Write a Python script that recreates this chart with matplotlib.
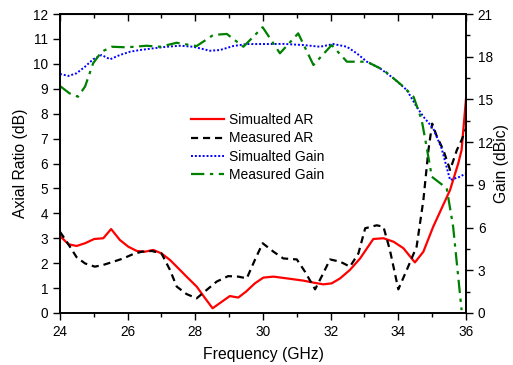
import matplotlib
matplotlib.use("Agg")
import matplotlib.pyplot as plt
from matplotlib.ticker import MultipleLocator

plt.rcParams['font.family'] = ['Liberation Sans', 'DejaVu Sans']

# Simulated AR (dB)
sim_ar_f = [24.0, 24.25, 24.49, 24.74, 25.01, 25.28, 25.51, 25.77, 26.02, 26.27, 26.51, 26.76,
            27.0, 27.25, 27.5, 27.74, 28.04, 28.29, 28.51, 28.78, 29.02, 29.27, 29.5, 29.76,
            30.01, 30.31, 30.7, 31.19, 31.49, 31.78, 32.03, 32.28, 32.57, 32.87, 33.26, 33.56,
            33.86, 34.15, 34.49, 34.74, 35.03, 35.28, 35.53, 35.77, 35.87, 36.0]
sim_ar = [3.09, 2.76, 2.69, 2.8, 2.97, 3.0, 3.37, 2.93, 2.66, 2.49, 2.46, 2.53,
          2.39, 2.13, 1.79, 1.46, 1.06, 0.59, 0.19, 0.45, 0.68, 0.62, 0.86, 1.19,
          1.42, 1.46, 1.39, 1.30, 1.22, 1.15, 1.19, 1.39, 1.73, 2.19, 2.97, 3.0,
          2.86, 2.6, 2.03, 2.46, 3.46, 4.2, 4.94, 6.0, 6.54, 8.6]

# Measured AR (dB)
meas_ar_f = [24.0, 24.2, 24.49, 24.74, 25.03, 25.28, 25.58, 25.87, 26.17, 26.42, 26.71, 27.0,
             27.25, 27.45, 27.74, 28.04, 28.33, 28.63, 28.97, 29.27, 29.52, 29.76, 29.99, 30.31,
             30.6, 31.0, 31.24, 31.54, 31.78, 31.98, 32.28, 32.57, 32.82, 33.02, 33.36, 33.56,
             33.75, 34.0, 34.25, 34.54, 34.74, 34.89, 35.0, 35.14, 35.33, 35.53, 35.73, 35.87, 36.0]
meas_ar = [3.26, 2.86, 2.24, 1.99, 1.86, 1.93, 2.06, 2.19, 2.37, 2.46, 2.49, 2.39,
           1.73, 1.06, 0.76, 0.59, 0.92, 1.26, 1.48, 1.46, 1.39, 2.13, 2.8, 2.46,
           2.19, 2.15, 1.66, 0.95, 1.59, 2.15, 2.06, 1.86, 2.39, 3.40, 3.52, 3.46,
           2.53, 0.95, 1.73, 2.66, 4.53, 6.54, 7.6, 7.08, 6.54, 5.74, 6.54, 6.94, 7.4]

# Simulated Gain (dBic)
sim_gain_f = [24.0, 24.25, 24.49, 24.74, 24.98, 25.23, 25.48, 25.77, 26.07, 26.36, 26.76, 27.15,
              27.55, 27.94, 28.43, 28.73, 29.12, 29.52, 30.11, 30.6, 31.19, 31.69, 32.08, 32.48,
              32.77, 33.07, 33.46, 33.86, 34.25, 34.54, 34.74, 35.03, 35.28, 35.53, 35.82, 36.0]
sim_gain = [16.79, 16.65, 16.84, 17.3, 17.82, 18.12, 17.82, 18.12, 18.35, 18.47, 18.59, 18.7,
            18.77, 18.7, 18.42, 18.47, 18.75, 18.89, 18.89, 18.9, 18.82, 18.7, 18.89, 18.7,
            18.24, 17.65, 17.18, 16.48, 15.66, 14.49, 13.79, 12.97, 11.55, 9.34, 9.57, 9.81]

# Measured Gain (dBic)
meas_gain_f = [24.0, 24.28, 24.53, 24.74, 24.98, 25.23, 25.53, 25.97, 26.56, 26.96, 27.45, 27.84,
               28.04, 28.53, 28.93, 29.42, 29.99, 30.5, 31.04, 31.49, 32.03, 32.48, 33.07, 33.56,
               34.15, 34.45, 34.69, 34.84, 34.99, 35.43, 35.62, 35.87]
meas_gain = [15.94, 15.43, 15.19, 15.9, 17.54, 18.35, 18.7, 18.66, 18.77, 18.7, 18.98, 18.82,
             18.75, 19.53, 19.6, 18.7, 20.07, 18.24, 19.64, 17.42, 18.82, 17.65, 17.65, 17.07,
             15.9, 15.19, 13.56, 11.6, 9.57, 8.76, 6.06, 0.2]

fig = plt.figure(figsize=(5.13, 3.65), dpi=100)
ax = fig.add_axes([60/513, 1-313/365, 406/513, 299/365])
ax2 = ax.twinx()

l1, = ax.plot(sim_ar_f, sim_ar, color='#ff0000', lw=1.6, label='Simualted AR')
l2, = ax.plot(meas_ar_f, meas_ar, color='black', lw=1.6, ls=(0, (3.2, 2.2)), label='Measured AR')
l3, = ax2.plot(sim_gain_f, sim_gain, color='#0000ff', lw=1.4, ls=(0, (1, 1)), label='Simualted Gain')
l4, = ax2.plot(meas_gain_f, meas_gain, color='#008000', lw=1.6, ls=(0, (6, 2.5, 1.5, 2.5)), label='Measured Gain')

ax.set_xlim(24, 36)
ax.set_ylim(0, 12)
ax2.set_ylim(0, 21)
ax.xaxis.set_major_locator(MultipleLocator(2))
ax.xaxis.set_minor_locator(MultipleLocator(1))
ax.yaxis.set_major_locator(MultipleLocator(1))
ax2.yaxis.set_major_locator(MultipleLocator(3))
ax2.yaxis.set_minor_locator(MultipleLocator(1.5))

ax.tick_params(axis='x', which='major', direction='out', length=5, width=1, labelsize=9.8, top=False)
ax.tick_params(axis='x', which='minor', direction='out', length=3, width=1, top=False)
ax.tick_params(axis='y', which='major', direction='out', length=5, width=1, labelsize=9.8)
ax2.tick_params(axis='y', which='major', direction='out', length=5, width=1, labelsize=9.8)
ax2.tick_params(axis='y', which='minor', direction='out', length=3, width=1)

# top ticks pointing inward
secx = ax.secondary_xaxis('top')
secx.xaxis.set_major_locator(MultipleLocator(2))
secx.xaxis.set_minor_locator(MultipleLocator(1))
secx.tick_params(which='major', direction='in', length=5, width=1, labeltop=False)
secx.tick_params(which='minor', direction='in', length=3, width=1)

for a in (ax, ax2):
    for s in a.spines.values():
        s.set_linewidth(1.2)

ax.set_xlabel('Frequency (GHz)', fontsize=11.3, labelpad=6)
ax.set_ylabel('Axial Ratio (dB)', fontsize=11.3, labelpad=4)
ax2.set_ylabel('Gain (dBic)', fontsize=11.3, labelpad=1)

ax2.legend(handles=[l1, l2, l3, l4], loc='upper left', bbox_to_anchor=(0.322, 0.668),
           frameon=False, fontsize=10, handlelength=2.4, handletextpad=0.35,
           labelspacing=0.3, borderaxespad=0, borderpad=0)

fig.savefig('out.png', dpi=100)
